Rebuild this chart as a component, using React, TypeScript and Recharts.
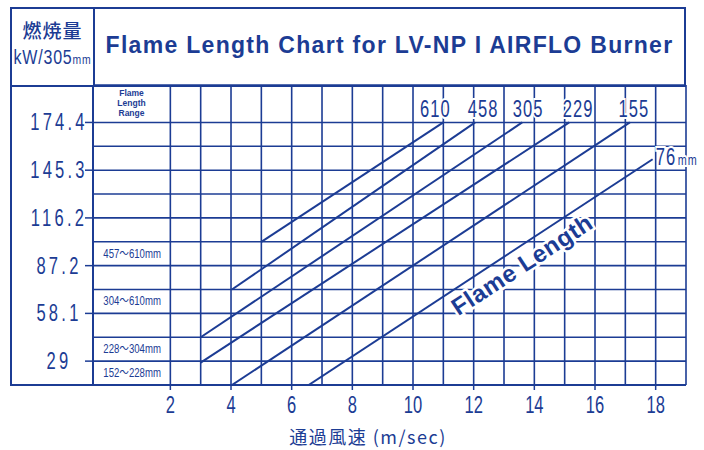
import React from 'react';
import { ComposedChart, Line, Scatter, XAxis, YAxis, CartesianGrid, LabelList } from 'recharts';

const NAVY = '#1c3c94';
const SANS = '"Liberation Sans", Arial, sans-serif';
const CJK = '"Noto Sans CJK JP", "Noto Sans", sans-serif';

// flame length lines, points are [air speed m/s, kW per 305mm]
const line610 = [{ x: 5.0, y: 101.7 }, { x: 11.0, y: 174.4 }];
const line458 = [{ x: 4.03, y: 72.67 }, { x: 12.05, y: 174.4 }];
const line305 = [{ x: 3.0, y: 43.6 }, { x: 13.6, y: 174.4 }];
const line229 = [{ x: 3.0, y: 28.2 }, { x: 15.15, y: 174.4 }];
const line155 = [{ x: 4.03, y: 14.53 }, { x: 17.15, y: 174.4 }];
const line76 = [{ x: 6.56, y: 14.53 }, { x: 17.9, y: 152.0 }];

const lineNames = ['610', '458', '305', '229', '155', '76'];

const xTicks = [2, 3, 4, 5, 6, 7, 8, 9, 10, 11, 12, 13, 14, 15, 16, 17, 18, 19];
const xTickLabels = ['2', '', '4', '', '6', '', '8', '', '10', '', '12', '', '14', '', '16', '', '18', ''];

const yTicks = [29.07, 43.6, 58.13, 72.67, 87.2, 101.73, 116.27, 130.8, 145.33, 159.87, 174.4];
const yTickLabels = ['29', '', '58.1', '', '87.2', '', '116.2', '', '145.3', '', '174.4'];
const minorTicks = [182.0, 167.8, 152.6, 138.3, 123.1, 107.9, 93.7, 77.8, 63.6, 49.0, 33.8];

const rangeFrom = ['457', '304', '228', '152'];
const rangeTo = ['610', '610', '304', '228'];
const rangeMid = [94.5, 65.4, 36.3, 21.8];

// label offsets in px from the top end of each line
const endOffsets = [
  { dx: -8, dy: -5, anchor: 'middle' },
  { dx: 8, dy: -5, anchor: 'middle' },
  { dx: 6, dy: -5, anchor: 'middle' },
  { dx: 9, dy: -5, anchor: 'middle' },
  { dx: 4, dy: -5, anchor: 'middle' },
  { dx: 3, dy: 6, anchor: 'start' },
];

const series = [line610, line458, line305, line229, line155, line76];

const rangeData = rangeMid.map((y, i) => ({ x: 0.74, y, from: rangeFrom[i], to: rangeTo[i] }));
const flameText = [{ x: 13.6, y: 87.6, label: 'Flame Length' }];

// condensed look: Arial squeezed horizontally
function Narrow(props: any) {
  const { x, y, size, spacing = 0, anchor = 'middle', sx = 0.72, halo, children } = props;
  return (
    <text
      transform={`translate(${x} ${y}) scale(${sx} 1)`}
      textAnchor={anchor}
      fill={NAVY}
      fontSize={size}
      letterSpacing={spacing}
      fontFamily={SANS}
      stroke={halo ? '#fff' : undefined}
      strokeWidth={halo ? 4 : undefined}
      paintOrder="stroke"
    >
      {children}
    </text>
  );
}

function XTick(props: any) {
  const { x, y, index } = props;
  const label = xTickLabels[index];
  if (!label) return <g />;
  return (
    <g>
      <line x1={x} x2={x} y1={385} y2={390} stroke={NAVY} strokeWidth={1.5} />
      <Narrow x={x} y={y + 20} size={23}>
        {label}
      </Narrow>
    </g>
  );
}

function YTick(props: any) {
  const { y, index } = props;
  const label = yTickLabels[index];
  if (!label) return <g />;
  return (
    <g>
      <line x1={85} x2={93} y1={y} y2={y} stroke={NAVY} strokeWidth={1.5} />
      <Narrow x={59} y={y + 8} size={23} spacing={4.5}>
        {label}
      </Narrow>
    </g>
  );
}

function MinorTick(props: any) {
  return <line x1={10} x2={18} y1={props.y} y2={props.y} stroke={NAVY} strokeWidth={1.5} />;
}

function RangeShape(props: any) {
  const p = props.payload;
  return (
    <text
      transform={`translate(${props.cx} ${props.cy + 4}) scale(0.8 1)`}
      textAnchor="middle"
      fill={NAVY}
      fontSize={12}
      fontFamily={SANS}
    >
      {p.from}
      <tspan fontFamily={CJK}>～</tspan>
      {p.to}mm
    </text>
  );
}

function FlameShape(props: any) {
  return (
    <text
      x={props.cx}
      y={props.cy + 8}
      textAnchor="middle"
      fill={NAVY}
      fontSize={24}
      fontWeight="bold"
      fontFamily={SANS}
      stroke="#fff"
      strokeWidth={5}
      paintOrder="stroke"
      letterSpacing={0.6}
      transform={`rotate(-33.2 ${props.cx} ${props.cy})`}
    >
      {props.payload.label}
    </text>
  );
}

function endLabel(i: number) {
  const off = endOffsets[i];
  const name = lineNames[i];
  return (props: any) => {
    if (props.index !== 1) return null;
    return (
      <Narrow x={props.x + off.dx} y={props.y + off.dy} size={23} spacing={1.5} anchor={off.anchor} halo>
        {name}
        {i === 5 ? <tspan fontSize={15} dx={2}>mm</tspan> : null}
      </Narrow>
    );
  };
}

export default function App() {
  return (
    <div style={{ position: 'absolute', left: 0, top: 0, width: 704, height: 450, background: '#fff' }}>
      <ComposedChart width={704} height={450} margin={{ top: 85, right: 18, bottom: 0, left: 10 }}>
        <CartesianGrid stroke={NAVY} strokeWidth={1.6} />
        <XAxis
          type="number"
          dataKey="x"
          domain={[-0.55, 19]}
          ticks={xTicks}
          allowDataOverflow
          height={65}
          tickLine={false}
          axisLine={{ stroke: NAVY, strokeWidth: 2 }}
          tick={<XTick />}
          interval={0}
        />
        <YAxis
          type="number"
          dataKey="y"
          domain={[14.533, 197.2]}
          ticks={yTicks}
          allowDataOverflow
          width={83}
          tickLine={false}
          axisLine={{ stroke: NAVY, strokeWidth: 2 }}
          tick={<YTick />}
          interval={0}
        />
        <YAxis
          yAxisId="minor"
          type="number"
          dataKey="y"
          domain={[14.533, 197.2]}
          ticks={minorTicks}
          allowDataOverflow
          width={0}
          tickLine={false}
          axisLine={false}
          tick={<MinorTick />}
          interval={0}
        />
        {series.map((d, i) => (
          <Line
            key={lineNames[i]}
            data={d}
            dataKey="y"
            stroke={NAVY}
            strokeWidth={2}
            dot={false}
            isAnimationActive={false}
          >
            <LabelList dataKey="y" content={endLabel(i)} />
          </Line>
        ))}
        <Scatter data={rangeData} dataKey="y" shape={<RangeShape />} isAnimationActive={false} />
        <Scatter data={flameText} dataKey="y" shape={<FlameShape />} isAnimationActive={false} />
      </ComposedChart>

      {/* header box */}
      <div
        style={{
          position: 'absolute',
          left: 10,
          top: 7,
          width: 676,
          height: 80,
          border: `2px solid ${NAVY}`,
          boxSizing: 'border-box',
          display: 'flex',
          color: NAVY,
        }}
      >
        <div
          style={{
            width: 83,
            borderRight: `2px solid ${NAVY}`,
            boxSizing: 'border-box',
            textAlign: 'center',
            paddingTop: 8,
          }}
        >
          <div style={{ fontFamily: CJK, fontSize: 19, fontWeight: 500, lineHeight: '26px', letterSpacing: 1 }}>燃焼量</div>
          <div
            style={{
              fontFamily: SANS,
              fontSize: 20,
              lineHeight: '28px',
              letterSpacing: 1,
              whiteSpace: 'nowrap',
              transform: 'scaleX(0.8)',
              transformOrigin: 'center',
              marginLeft: -10,
              marginRight: -10,
            }}
          >
            kW/305<span style={{ fontSize: 13 }}>mm</span>
          </div>
        </div>
        <div
          style={{
            flex: 1,
            display: 'flex',
            alignItems: 'center',
            justifyContent: 'center',
            fontFamily: SANS,
            fontWeight: 'bold',
            fontSize: 23,
            letterSpacing: 1.3,
            paddingBottom: 4,
            whiteSpace: 'nowrap',
          }}
        >
          Flame Length Chart for LV-NP I AIRFLO Burner
        </div>
      </div>

      {/* left label box */}
      <div
        style={{
          position: 'absolute',
          left: 10,
          top: 85,
          width: 84,
          height: 301,
          borderLeft: `2px solid ${NAVY}`,
          borderBottom: `2px solid ${NAVY}`,
          boxSizing: 'border-box',
          pointerEvents: 'none',
        }}
      />

      <div
        style={{
          position: 'absolute',
          left: 93,
          top: 88,
          width: 77,
          textAlign: 'center',
          fontFamily: SANS,
          fontWeight: 'bold',
          fontSize: 8.5,
          lineHeight: '10px',
          color: NAVY,
        }}
      >
        Flame
        <br />
        Length
        <br />
        Range
      </div>

      <div
        style={{
          position: 'absolute',
          left: 0,
          top: 424,
          width: 736,
          textAlign: 'center',
          fontFamily: CJK,
          fontSize: 18,
          letterSpacing: 1.5,
          color: NAVY,
          lineHeight: '24px',
        }}
      >
        通過風速 (m/sec)
      </div>
    </div>
  );
}
